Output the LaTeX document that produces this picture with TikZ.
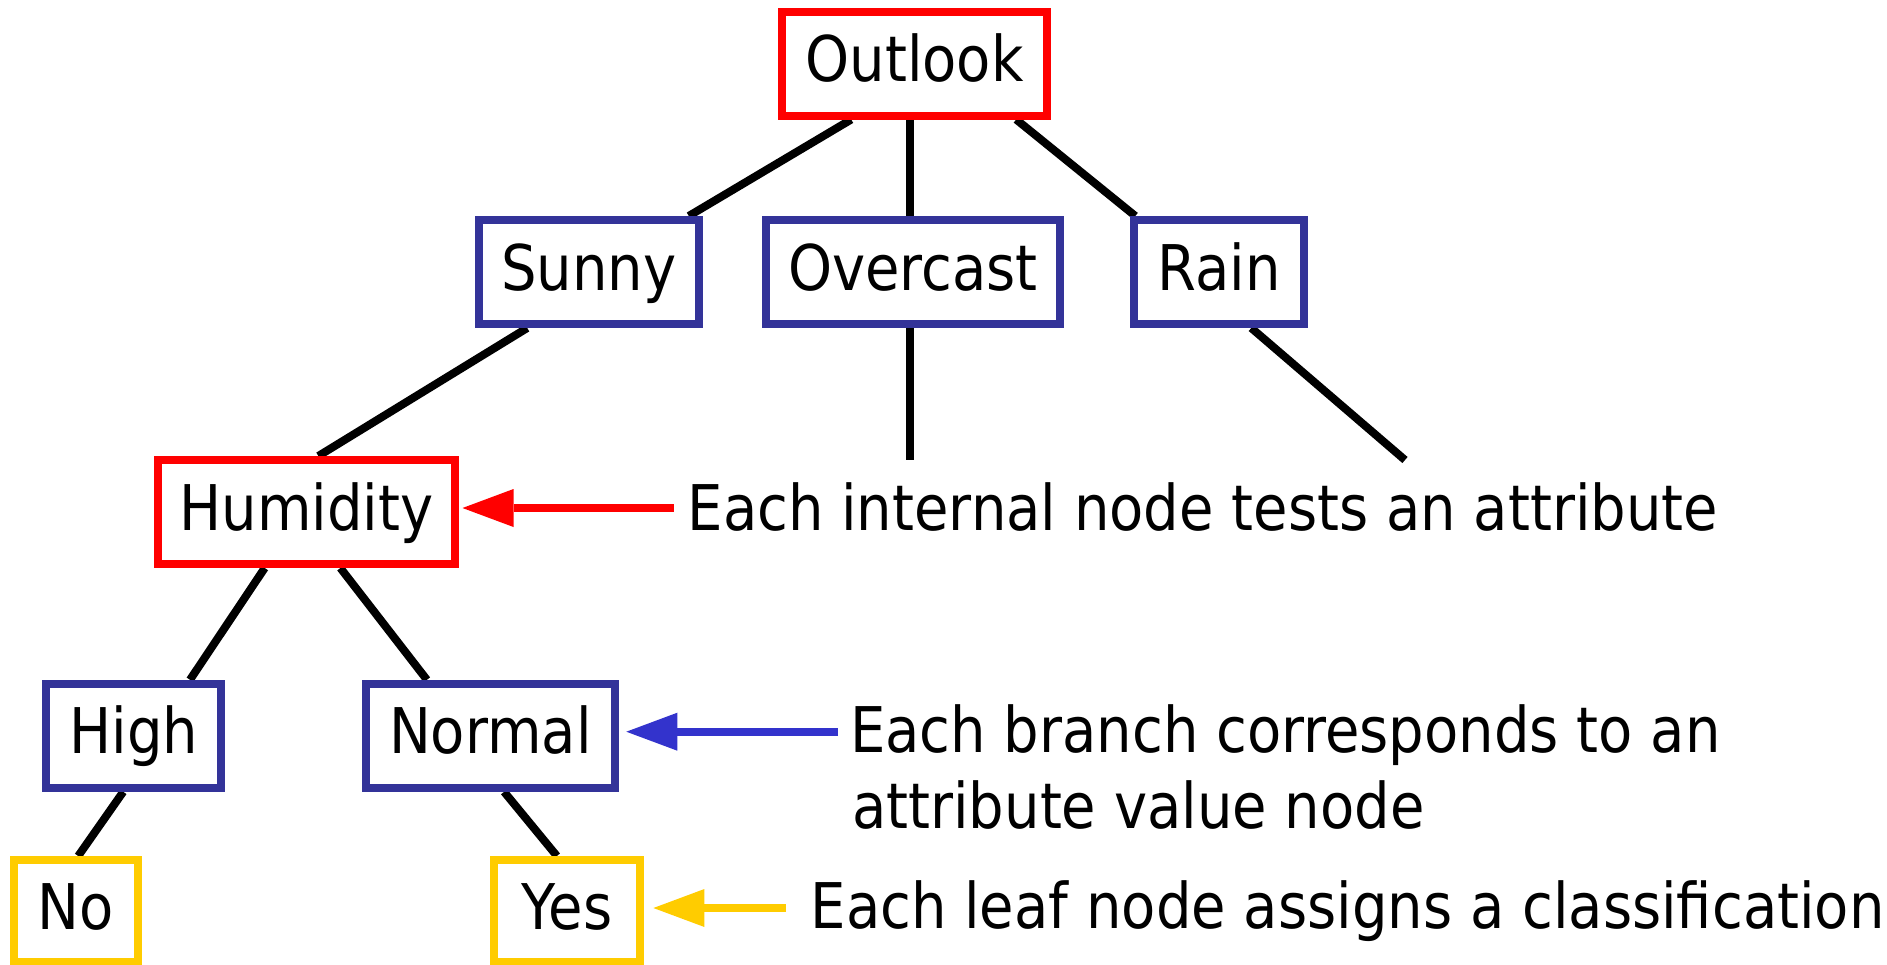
\documentclass[tikz,border=0pt]{standalone}
\usepackage{fontspec}
\setmainfont{DejaVu Sans}[FakeStretch=0.889]
\usetikzlibrary{arrows.meta,backgrounds}
\definecolor{boxred}{HTML}{FF0000}
\definecolor{boxblue}{HTML}{333399}
\definecolor{arrblue}{HTML}{3333CC}
\definecolor{boxgold}{HTML}{FFCC00}
\begin{document}
\begin{tikzpicture}[x=1pt,y=-1pt,
  every node/.style={font=\fontsize{63}{75.6}\selectfont},
  tbox/.style={line width=8pt,fill=white,inner sep=0pt,text height=52pt,text depth=16pt,minimum height=104pt},
  redbox/.style={tbox,draw=boxred},
  bluebox/.style={tbox,draw=boxblue},
  goldbox/.style={tbox,draw=boxgold,minimum height=102pt},
  link/.style={line width=8pt,draw=black},
  pointer/.style={line width=8pt,-{Triangle[length=51pt,width=38pt,line width=0pt]}},
  note/.style={anchor=base west,inner sep=0pt}]
\useasboundingbox (0,0) rectangle (1887,964);
% tree nodes
\node[redbox,minimum width=265pt] (outlook) at (914.5,63.5) {Outlook};
\node[bluebox,minimum width=220pt] (sunny) at (588.6,272) {Sunny};
\node[bluebox,minimum width=293.5pt] (overcast) at (913,272) {Overcast};
\node[bluebox,minimum width=169.5pt] (rain) at (1219,272) {Rain};
\node[redbox,minimum width=296.6pt] (humidity) at (306.6,512) {Humidity};
\node[bluebox,minimum width=175pt] (high) at (133.9,735.8) {High};
\node[bluebox,minimum width=248.8pt] (normal) at (490.4,735.8) {Normal};
\node[goldbox,minimum width=124.2pt] (no) at (75.9,911) {No};
\node[goldbox,minimum width=146pt] (yes) at (567,911) {Yes};
\coordinate (ovend) at (910,460);
\coordinate (rainend) at (1405,460);
% notes
\node[note] (t1) at (687.4,530) {Each internal node tests an attribute};
\node[note] (t2a) at (849.8,752.7) {Each branch corresponds to an};
\node[note] (t2b) at (851.9,828.3) {attribute value node};
\node[note] (t3) at (810.4,928.3) {Each leaf node assigns a classification};
% connectors
\begin{scope}[on background layer]
\draw[link] ([xshift=-63.3pt]outlook.south) -- ([xshift=100.2pt]sunny.north);
\draw[link] ([xshift=-4.5pt]outlook.south) -- ([xshift=-3pt]overcast.north);
\draw[link] ([xshift=101.7pt]outlook.south) -- ([xshift=-83.7pt]rain.north);
\draw[link] ([xshift=-61.4pt]sunny.south) -- ([xshift=11.8pt]humidity.north);
\draw[link] ([xshift=-3pt]overcast.south) -- (ovend);
\draw[link] ([xshift=32.3pt]rain.south) -- (rainend);
\draw[link] ([xshift=-41.9pt]humidity.south) -- ([xshift=56.1pt]high.north);
\draw[link] ([xshift=33.8pt]humidity.south) -- ([xshift=-63.5pt]normal.north);
\draw[link] ([xshift=-10.7pt]high.south) -- ([xshift=2.3pt]no.north);
\draw[link] ([xshift=13.7pt]normal.south) -- ([xshift=-10.1pt]yes.north);
\end{scope}
% pointers
\draw[pointer,boxred] ([xshift=214.7pt,yshift=4pt]humidity.east) -- ([xshift=3.6pt,yshift=4pt]humidity.east);
\draw[pointer,arrblue] ([xshift=219.2pt,yshift=4.1pt]normal.east) -- ([xshift=7.5pt,yshift=4.1pt]normal.east);
\draw[pointer,boxgold] ([xshift=142pt,yshift=3pt]yes.east) -- ([xshift=9.4pt,yshift=3pt]yes.east);
\end{tikzpicture}
\end{document}
